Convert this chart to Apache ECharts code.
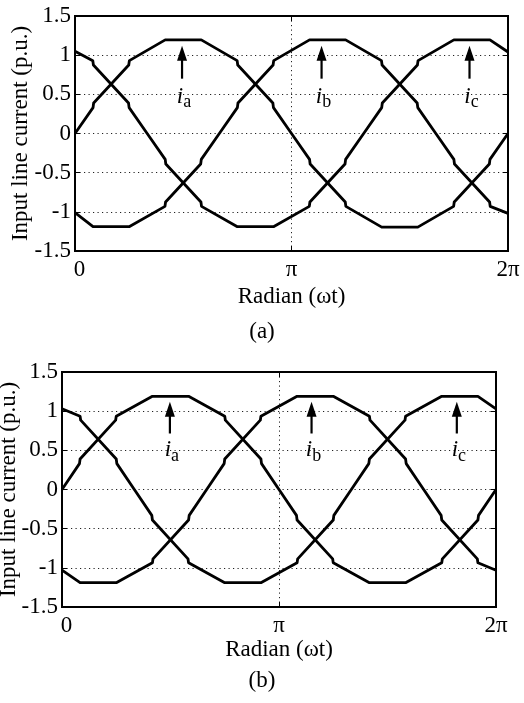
<!DOCTYPE html>
<html>
<head>
<meta charset="utf-8">
<script src="https://cdn.jsdelivr.net/npm/echarts@6/dist/echarts.min.js"></script>
<style>
  html, body { margin: 0; padding: 0; background: #fff; }
  #chart { width: 524px; height: 703px; }
</style>
</head>
<body>
<div id="chart"></div>
<script>
// Phase angle in degrees (0..360 maps to 0..2π on the axis), current in p.u.

// Panel (a)
const aIa = [[0,0],[15,0.33],[15.5,0.39],[44.7,0.875],[45.2,0.93],[75,1.195],[105,1.195],[134.8,0.93],[135.3,0.875],[164.5,0.39],[165,0.33],[180,0],[195,-0.33],[195.5,-0.39],[224.7,-0.875],[225.2,-0.93],[255,-1.195],[285,-1.195],[314.8,-0.93],[315.3,-0.875],[344.5,-0.39],[345,-0.33],[360,0]];
const aIb = [[0,-1.01],[15,-1.19],[45,-1.19],[74.8,-0.93],[75.3,-0.875],[104.5,-0.39],[105,-0.33],[120,0],[135,0.33],[135.5,0.39],[164.7,0.875],[165.2,0.93],[195,1.195],[225,1.195],[254.8,0.93],[255.3,0.875],[284.5,0.39],[285,0.33],[300,0],[315,-0.33],[315.5,-0.39],[344.7,-0.875],[345.2,-0.93],[360,-1.02]];
const aIc = [[0,1.05],[14.8,0.93],[15.3,0.875],[44.5,0.39],[45,0.33],[60,0],[75,-0.33],[75.5,-0.39],[104.7,-0.875],[105.2,-0.93],[135,-1.19],[165,-1.19],[194.8,-0.93],[195.3,-0.875],[224.5,-0.39],[225,-0.33],[240,0],[255,0.33],[255.5,0.39],[284.7,0.875],[285.2,0.93],[315,1.195],[345,1.195],[360,1.04]];

// Panel (b)
const bIa = [[0,0],[14.5,0.33],[15,0.39],[44.5,0.885],[45,0.935],[75,1.19],[105,1.19],[135,0.935],[135.5,0.885],[165,0.39],[165.5,0.33],[180,0],[194.5,-0.33],[195,-0.39],[224.5,-0.885],[225,-0.935],[255,-1.19],[285,-1.19],[315,-0.935],[315.5,-0.885],[345,-0.39],[345.5,-0.33],[360,0]];
const bIb = [[0,-1.03],[15,-1.19],[45,-1.19],[75,-0.935],[75.5,-0.885],[105,-0.39],[105.5,-0.33],[120,0],[134.5,0.33],[135,0.39],[164.5,0.885],[165,0.935],[195,1.19],[225,1.19],[255,0.935],[255.5,0.885],[285,0.39],[285.5,0.33],[300,0],[314.5,-0.33],[315,-0.39],[344.5,-0.885],[345,-0.935],[360,-1.03]];
const bIc = [[0,1.03],[15,0.935],[15.5,0.885],[45,0.39],[45.5,0.33],[60,0],[74.5,-0.33],[75,-0.39],[104.5,-0.885],[105,-0.935],[135,-1.19],[165,-1.19],[195,-0.935],[195.5,-0.885],[225,-0.39],[225.5,-0.33],[240,0],[254.5,0.33],[255,0.39],[284.5,0.885],[285,0.935],[315,1.19],[345,1.19],[360,1.03]];

// Phase annotations: arrow position, arrow base / tip, label height
const phaseNames = ['a', 'b', 'c'];
const aArrowX = [89, 205, 328];
const bArrowX = [89.5, 207, 327.5];
const aArrowSpan = [0.70, 1.12];
const bArrowSpan = [0.715, 1.12];
const aLabelY = 0.45;
const bLabelY = 0.48;

// Axis ticks
const xTickLabels = { 0: '0', 180: 'π', 360: '2π' };
const captions = ['(a)', '(b)'];

const FONT = 'Liberation Serif';
const BLACK = '#000';

const grids = [
  { left: 75, top: 16, width: 433, height: 235 },
  { left: 62, top: 372, width: 434, height: 235 }
];
const xNameGaps = [34, 31];
const yNameGaps = [43, 42];

const chart = echarts.init(document.getElementById('chart'), null, { renderer: 'canvas' });

const dotted = { color: '#222', width: 1, type: [1.2, 3.3] };
const textBase = { fontFamily: FONT, fontSize: 23, color: BLACK };

const gridOpts = grids.map(g => Object.assign({
  show: true, borderColor: BLACK, borderWidth: 2, backgroundColor: 'transparent',
  containLabel: false, outerBoundsMode: 'none'
}, g));

const xAxes = [];
const yAxes = [];
grids.forEach((g, k) => {
  xAxes.push({
    gridIndex: k, type: 'value', position: 'bottom',
    min: 0, max: 360, interval: 180,
    name: 'Radian (ωt)', nameLocation: 'middle', nameGap: xNameGaps[k], nameMoveOverlap: false,
    nameTextStyle: textBase,
    axisLine: { show: true, onZero: false, lineStyle: { color: BLACK, width: 2 } },
    axisTick: { show: true, inside: true, length: 5, lineStyle: { color: BLACK, width: 1 } },
    axisLabel: Object.assign({
      margin: 7,
      formatter: v => v === 0 ? '{z|0}' : (xTickLabels[v] !== undefined ? xTickLabels[v] : ''),
      rich: { z: Object.assign({ padding: [0, 0, 0, 9] }, textBase) }
    }, textBase),
    splitLine: { show: true, lineStyle: dotted }
  });
  xAxes.push({
    gridIndex: k, type: 'value', position: 'top',
    min: 0, max: 360, interval: 180,
    axisLine: { show: true, onZero: false, lineStyle: { color: BLACK, width: 2 } },
    axisTick: { show: true, inside: true, length: 5, lineStyle: { color: BLACK, width: 1 } },
    axisLabel: { show: false }, splitLine: { show: false }
  });
  yAxes.push({
    gridIndex: k, type: 'value', position: 'left',
    min: -1.5, max: 1.5, interval: 0.5,
    name: 'Input line current (p.u.)', nameLocation: 'middle', nameGap: yNameGaps[k], nameMoveOverlap: false,
    nameTextStyle: textBase,
    axisLine: { show: true, onZero: false, lineStyle: { color: BLACK, width: 2 } },
    axisTick: { show: true, inside: true, length: 5, lineStyle: { color: BLACK, width: 1 } },
    axisLabel: Object.assign({ margin: 4 }, textBase),
    splitLine: { show: true, lineStyle: dotted }
  });
  yAxes.push({
    gridIndex: k, type: 'value', position: 'right',
    min: -1.5, max: 1.5, interval: 0.5,
    axisLine: { show: true, onZero: false, lineStyle: { color: BLACK, width: 2 } },
    axisTick: { show: true, inside: true, length: 5, lineStyle: { color: BLACK, width: 1 } },
    axisLabel: { show: false }, splitLine: { show: false }
  });
});

function waveSeries(data, k, name) {
  return {
    name, type: 'line', xAxisIndex: 2 * k, yAxisIndex: 2 * k,
    data, showSymbol: false, symbol: 'none', silent: true,
    lineStyle: { color: BLACK, width: 2.8, join: 'round' }, z: 3
  };
}

function arrowSeries(xs, span, k) {
  return {
    type: 'custom', xAxisIndex: 2 * k, yAxisIndex: 2 * k, silent: true, z: 4,
    data: xs.map(x => [x, span[0], span[1]]),
    encode: { x: 0, y: [1, 2] },
    renderItem: (params, api) => {
      const base = api.coord([api.value(0), api.value(1)]);
      const tip = api.coord([api.value(0), api.value(2)]);
      const headH = 15, headW = 5;
      return {
        type: 'group',
        children: [
          { type: 'line', shape: { x1: base[0], y1: base[1], x2: tip[0], y2: tip[1] + headH - 1 },
            style: { stroke: BLACK, lineWidth: 2.2 } },
          { type: 'polygon', shape: { points: [[tip[0], tip[1]], [tip[0] - headW, tip[1] + headH], [tip[0] + headW, tip[1] + headH]] },
            style: { fill: BLACK } }
        ]
      };
    }
  };
}

function labelSeries(xs, y, k) {
  return {
    type: 'scatter', xAxisIndex: 2 * k, yAxisIndex: 2 * k, silent: true, z: 5,
    symbolSize: 0, itemStyle: { color: BLACK, opacity: 1 },
    data: xs.map((x, i) => ({ value: [x, y], name: phaseNames[i] })),
    label: {
      show: true, position: 'inside', offset: [2, 0], color: BLACK,
      formatter: p => '{i|i}{s|' + p.name + '}',
      rich: {
        i: { fontFamily: FONT, fontSize: 23, fontStyle: 'italic', color: BLACK, verticalAlign: 'bottom', padding: [0, 0, 3, 0] },
        s: { fontFamily: FONT, fontSize: 18, color: BLACK, verticalAlign: 'bottom' }
      }
    }
  };
}

const series = [
  waveSeries(aIa, 0, 'ia'), waveSeries(aIb, 0, 'ib'), waveSeries(aIc, 0, 'ic'),
  waveSeries(bIa, 1, 'ia'), waveSeries(bIb, 1, 'ib'), waveSeries(bIc, 1, 'ic'),
  arrowSeries(aArrowX, aArrowSpan, 0), arrowSeries(bArrowX, bArrowSpan, 1),
  labelSeries(aArrowX, aLabelY, 0), labelSeries(bArrowX, bLabelY, 1)
];

chart.setOption({
  animation: false,
  backgroundColor: '#fff',
  grid: gridOpts,
  xAxis: xAxes,
  yAxis: yAxes,
  series,
  graphic: [
    { type: 'text', left: 'center', top: 320, style: Object.assign({ text: captions[0] }, textBase, { fill: BLACK }) },
    { type: 'text', left: 'center', top: 669, style: Object.assign({ text: captions[1] }, textBase, { fill: BLACK }) }
  ]
});
</script>
</body>
</html>
